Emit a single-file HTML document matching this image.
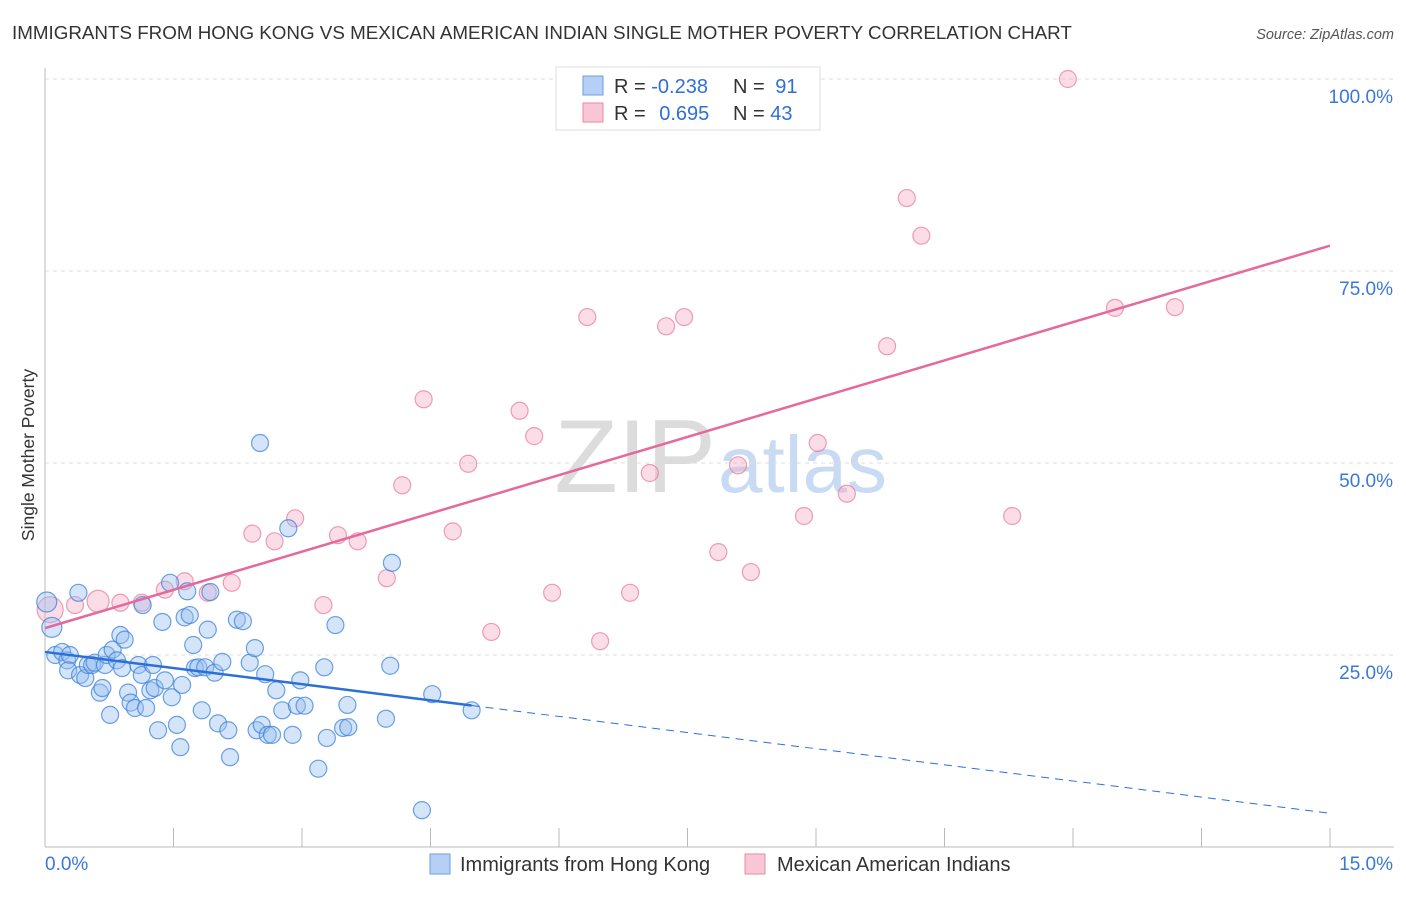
<!DOCTYPE html>
<html><head><meta charset="utf-8"><style>
body{margin:0;background:#fff;font-family:"Liberation Sans",sans-serif;}
svg text{font-family:"Liberation Sans",sans-serif;}
</style></head><body>
<svg id="chart" width="1406" height="892">
<text x="12" y="39" font-size="18.8" fill="#333">IMMIGRANTS FROM HONG KONG VS MEXICAN AMERICAN INDIAN SINGLE MOTHER POVERTY CORRELATION CHART</text>
<text x="1394" y="39" font-size="14.5" fill="#555" font-style="italic" text-anchor="end">Source: ZipAtlas.com</text>
<text x="716" y="492" font-size="104" fill="#dcdcdc" text-anchor="end" font-family="Liberation Serif">ZIP</text>
<text x="718" y="492" font-size="80" fill="#c9daf3">atlas</text>
<g id="grid"></g><g id="axes"></g><g id="pts"></g><g id="lines"></g>
<text transform="translate(34,455) rotate(-90)" font-size="17.5" fill="#333" text-anchor="middle">Single Mother Poverty</text>
<g>
<rect x="556" y="67" width="264" height="63" fill="#fff" stroke="#ddd"/>
<rect x="583" y="76" width="20" height="19" fill="#b6d0f5" stroke="#6a9de0"/>
<rect x="583" y="103" width="20" height="19" fill="#f8c6d4" stroke="#e88aa8"/>
<text x="614" y="93" font-size="20" fill="#333">R = <tspan fill="#2f6fd6">-0.238</tspan></text>
<text x="733" y="93" font-size="20" fill="#333">N = <tspan fill="#2f6fd6" dx="5">91</tspan></text>
<text x="614" y="120" font-size="20" fill="#333">R = <tspan fill="#2f6fd6" dx="8">0.695</tspan></text>
<text x="733" y="120" font-size="20" fill="#333">N = <tspan fill="#2f6fd6">43</tspan></text>
</g>
<g>
<rect x="430" y="854" width="20" height="20" fill="#b6d0f5" stroke="#6a9de0"/>
<text x="460" y="871" font-size="20" fill="#333">Immigrants from Hong Kong</text>
<rect x="745" y="854" width="20" height="20" fill="#f8c6d4" stroke="#e88aa8"/>
<text x="777" y="871" font-size="20" fill="#333">Mexican American Indians</text>
</g>
</svg>
<script>
const blueX=[0.02,0.08,0.12,0.20,0.26,0.29,0.27,0.39,0.41,0.47,0.50,0.55,0.58,0.64,0.67,0.70,0.72,0.76,0.79,0.84,0.88,0.90,0.93,0.97,1.00,1.05,1.09,1.13,1.14,1.18,1.23,1.26,1.28,1.32,1.37,1.40,1.46,1.48,1.54,1.58,1.60,1.63,1.66,1.69,1.73,1.75,1.79,1.83,1.87,1.90,1.93,1.98,2.02,2.07,2.14,2.16,2.24,2.31,2.39,2.45,2.47,2.51,2.53,2.57,2.60,2.65,2.70,2.77,2.84,2.89,2.94,2.98,3.03,3.19,3.26,3.29,3.39,3.48,3.53,3.54,3.98,4.03,4.05,4.40,4.52,4.98];
const blueY=[31.9,28.6,25.0,25.4,24.3,25.0,23.0,33.1,22.4,22.0,23.7,23.7,24.0,20.1,20.7,23.7,25.0,17.2,25.7,24.3,27.6,23.3,27.0,20.1,18.8,18.1,23.7,22.4,31.5,18.1,20.4,23.7,20.7,15.2,29.3,21.7,34.4,19.5,15.9,13.0,21.1,29.9,33.3,30.2,26.3,23.3,23.4,17.8,23.4,28.3,33.2,22.7,16.1,24.1,15.2,11.7,29.6,29.4,24.0,25.9,15.2,52.6,15.9,22.5,14.6,14.6,20.4,17.8,41.5,14.6,18.4,21.7,18.4,10.2,23.4,14.2,28.9,15.5,18.5,15.6,16.7,23.6,37.0,4.8,19.9,17.8];
const pinkX=[0.06,0.35,0.62,0.88,1.13,1.40,1.63,1.90,2.18,2.42,2.68,2.92,3.25,3.42,3.65,3.99,4.17,4.42,4.76,4.94,5.21,5.54,5.71,5.92,6.33,6.48,6.83,7.06,7.25,7.46,7.86,8.09,8.24,8.86,9.02,9.36,9.83,10.06,10.23,11.29,11.94,12.49,13.19];
const pinkY=[30.9,31.5,32.0,31.8,31.8,33.5,34.6,33.1,34.4,40.8,39.8,42.8,31.5,40.6,39.8,35.0,47.1,58.3,41.1,49.9,28.0,56.8,53.5,33.1,69.0,26.8,33.1,48.7,67.8,69.0,38.4,49.7,35.8,43.1,52.6,46.0,65.2,84.5,79.6,43.1,100.0,70.2,70.3];
const yTicks=[25,50,75,100];
const yTickLabels=["25.0%","50.0%","75.0%","100.0%"];
const blueTrend=[25.4,-1.4];
const pinkTrend=[28.5,3.32];
const blueSolidEnd=4.98;
const X0=45,X1=1330,Y0=847,Y100=79;
const sx=v=>X0+(X1-X0)*v/15, sy=v=>Y0-(Y0-Y100)*v/100;
const NS="http://www.w3.org/2000/svg";
function mk(t,a,p){const e=document.createElementNS(NS,t);for(const k in a)e.setAttribute(k,a[k]);p.appendChild(e);return e;}
const grid=document.getElementById('grid'),axes=document.getElementById('axes'),pts=document.getElementById('pts'),lines=document.getElementById('lines');
yTicks.forEach((t,i)=>{
 const g=mk('line',{x1:X0,x2:1394,y1:sy(t),y2:sy(t),stroke:'#ddd','stroke-dasharray':'4,4'},grid);
 
 
 const tx=mk('text',{x:1393,y:sy(t)+24,'font-size':19,fill:'#3a78d8','text-anchor':'end'},axes);
 tx.textContent=yTickLabels[i];
 
 
});
const ax=mk('line',{x1:X0,x2:1394,y1:Y0,y2:Y0,stroke:'#bbb'},axes);


const ay=mk('line',{x1:X0,x2:X0,y1:68,y2:Y0,stroke:'#bbb'},axes);


for(let i=0;i<=10;i++){const l=mk('line',{x1:sx(i*1.5),x2:sx(i*1.5),y1:828,y2:Y0,stroke:'#bbb'},axes);
 
 }
const xl0=mk('text',{x:45,y:870,'font-size':19,fill:'#3a78d8'},axes);xl0.textContent='0.0%';


const xl1=mk('text',{x:1393,y:870,'font-size':19,fill:'#3a78d8','text-anchor':'end'},axes);xl1.textContent='15.0%';


pinkX.forEach((x,i)=>{const c=mk('circle',{cx:sx(x),cy:sy(pinkY[i]),r:i==0?13:(i==2?11:8.5),fill:'rgba(245,170,195,0.4)',stroke:'rgba(230,120,155,0.7)','stroke-width':1.2},pts);
 
 });
blueX.forEach((x,i)=>{const c=mk('circle',{cx:sx(x),cy:sy(blueY[i]),r:i<2?10:8.5,fill:'rgba(150,190,240,0.4)',stroke:'rgba(60,130,220,0.75)','stroke-width':1.2},pts);
 
 });
const bt=x=>blueTrend[0]+blueTrend[1]*x, pt=x=>pinkTrend[0]+pinkTrend[1]*x;
const b1=mk('line',{x1:sx(0),y1:sy(bt(0)),x2:sx(blueSolidEnd),y2:sy(bt(blueSolidEnd)),stroke:'#2c6fd8','stroke-width':2.5},lines);


const b2=mk('line',{x1:sx(blueSolidEnd),y1:sy(bt(blueSolidEnd)),x2:sx(15),y2:sy(bt(15)),stroke:'#2c6fd8','stroke-width':1,'stroke-dasharray':'8,6'},lines);


const p1=mk('line',{x1:sx(0),y1:sy(pt(0)),x2:sx(15),y2:sy(pt(15)),stroke:'#e5699a','stroke-width':2.5},lines);


</script>
</body></html>
